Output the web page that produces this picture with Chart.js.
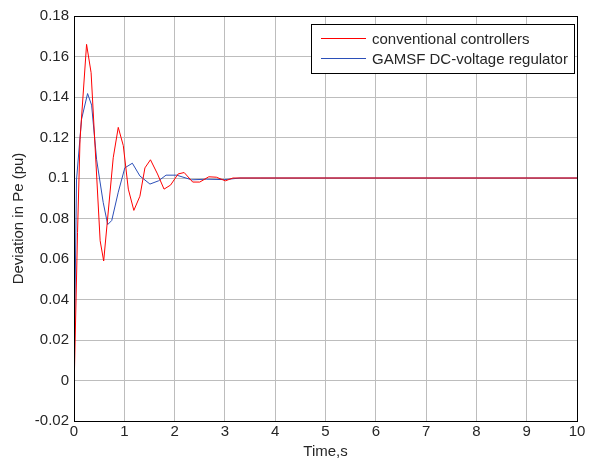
<!DOCTYPE html>
<html lang="en">

<head>
    <meta charset="UTF-8">
    <title>Deviation in Pe</title>
    <script src="https://cdn.jsdelivr.net/npm/chart.js"></script>
    <style>
        html, body { margin: 0; padding: 0; background: #fff; }
        .grafico { width: 600px; height: 461px; }
    </style>
</head>

<body>
    <div class="grafico">
        <canvas id="graficoPe"></canvas>
    </div>
</body>
<script>
    // conventional controllers (red)
    var tempoConv = [0, 0.07, 0.12, 0.25, 0.34, 0.52, 0.59, 0.78, 0.88, 0.98, 1.08, 1.19, 1.31, 1.41, 1.52, 1.66, 1.79, 1.92, 2.07, 2.19, 2.36, 2.5, 2.68, 2.83, 3.01, 3.16, 3.5, 4, 10]
    var valoresConv = [-0.0055, 0.073, 0.119, 0.166, 0.152, 0.069, 0.059, 0.110, 0.125, 0.116, 0.0945, 0.084, 0.091, 0.105, 0.109, 0.102, 0.0945, 0.0965, 0.102, 0.1027, 0.098, 0.098, 0.1006, 0.1004, 0.0986, 0.1, 0.1, 0.1, 0.1]

    // GAMSF DC-voltage regulator (blue)
    var tempoGamsf = [0, 0.05, 0.15, 0.27, 0.35, 0.45, 0.58, 0.67, 0.75, 0.88, 1.01, 1.16, 1.31, 1.51, 1.68, 1.83, 2.04, 2.34, 2.64, 3.0, 3.3, 3.7, 10]
    var valoresGamsf = [0, 0.099, 0.129, 0.1417, 0.136, 0.109, 0.088, 0.077, 0.079, 0.093, 0.105, 0.1073, 0.101, 0.097, 0.0986, 0.1014, 0.1014, 0.0991, 0.0994, 0.0992, 0.1, 0.1, 0.1]

    var nomesSeries = ['conventional controllers', 'GAMSF DC-voltage regulator']

    var fonte = { size: 15, family: '"Liberation Sans", Arial, sans-serif' }

    function montarPontos(tempos, valores) {
        var pontos = []
        for (var i = 0; i < tempos.length; i++) {
            pontos.push({ x: tempos[i], y: valores[i] })
        }
        return pontos
    }

    // caixa do eixo e legenda no estilo matlab
    const moldura = {
        id: 'moldura',
        afterDraw(chart) {
            const ctx = chart.ctx
            const a = chart.chartArea
            ctx.save()
            ctx.strokeStyle = '#000'
            ctx.lineWidth = 1
            ctx.strokeRect(Math.round(a.left) + 0.5, Math.round(a.top) + 0.5, Math.round(a.right - a.left), Math.round(a.bottom - a.top))

            // legenda
            const x0 = 311, y0 = 24, w = 263, h = 49
            ctx.fillStyle = '#fff'
            ctx.fillRect(x0, y0, w, h)
            ctx.strokeRect(x0 + 0.5, y0 + 0.5, w, h)
            ctx.font = '15px "Liberation Sans", Arial, sans-serif'
            ctx.textBaseline = 'middle'
            chart.data.datasets.forEach((ds, i) => {
                const y = y0 + 14.5 + i * 20
                ctx.strokeStyle = ds.borderColor
                ctx.beginPath()
                ctx.moveTo(x0 + 10, y)
                ctx.lineTo(x0 + 55, y)
                ctx.stroke()
                ctx.fillStyle = '#262626'
                ctx.fillText(ds.label, x0 + 61, y + 1)
            })
            ctx.restore()
        }
    }

    const ctx = document.getElementById('graficoPe').getContext('2d')
    const graficoPe = new Chart(ctx, {
        type: 'line',
        data: {
            datasets: [{
                label: nomesSeries[0],
                data: montarPontos(tempoConv, valoresConv),
                borderColor: '#ff0000',
                borderWidth: 1,
                pointRadius: 0,
                tension: 0
            }, {
                label: nomesSeries[1],
                data: montarPontos(tempoGamsf, valoresGamsf),
                borderColor: '#2b4fb8',
                borderWidth: 1,
                pointRadius: 0,
                tension: 0
            }]
        },
        options: {
            responsive: true,
            maintainAspectRatio: false,
            animation: false,
            layout: { padding: { top: 16, right: 23, left: 0, bottom: 0 } },
            plugins: {
                legend: { display: false },
                tooltip: { enabled: false }
            },
            scales: {
                x: {
                    type: 'linear',
                    min: 0,
                    max: 10,
                    afterFit: (s) => { s.height = 40 },
                    ticks: { stepSize: 1, color: '#262626', font: fonte, padding: 2 },
                    grid: { color: '#bdbdbd', tickLength: 0 },
                    border: { color: '#000' },
                    title: { display: true, text: 'Time,s', color: '#262626', font: fonte, padding: 0 }
                },
                y: {
                    min: -0.02,
                    max: 0.18,
                    afterFit: (s) => { s.width = 74 },
                    ticks: {
                        stepSize: 0.02, color: '#262626', padding: 5,
                        font: fonte,
                        callback: (v) => Number(v.toFixed(2)).toString()
                    },
                    grid: { color: '#bdbdbd', tickLength: 0 },
                    border: { color: '#000' },
                    title: { display: true, text: 'Deviation in Pe (pu)', color: '#262626', font: fonte, padding: { top: 10, bottom: 0 } }
                }
            }
        },
        plugins: [moldura]
    })
</script>

</html>
